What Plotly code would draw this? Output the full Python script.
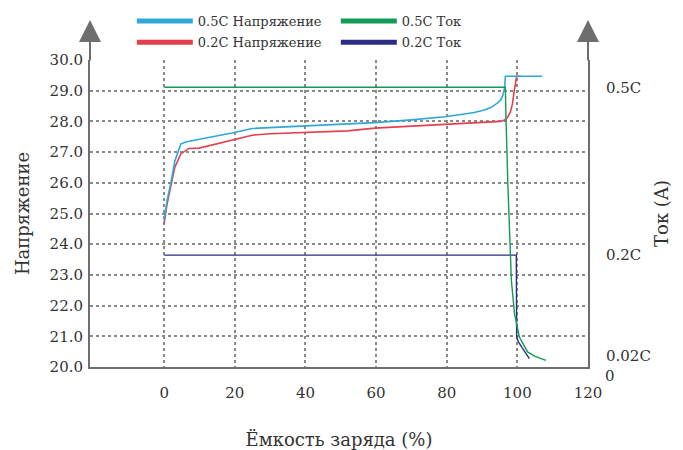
import plotly.graph_objects as go

# ---- data ----
cap_v05 = [0, 0.8, 1.9, 3.0, 4.7, 6.1, 10, 15, 19.2, 24.9, 30, 39.9, 52, 59.6, 70, 79.4, 85, 87.8, 90.6, 92.5, 94.4, 95.3, 95.9, 96.4, 96.6, 100, 107]
volt_05 = [24.75, 25.4, 26.0, 26.7, 27.26, 27.33, 27.42, 27.52, 27.62, 27.77, 27.8, 27.85, 27.92, 27.96, 28.05, 28.15, 28.24, 28.29, 28.37, 28.45, 28.6, 28.7, 28.85, 29.1, 29.47, 29.47, 29.47]

cap_v02 = [0, 0.8, 1.9, 3.0, 4.7, 7.0, 9.9, 14, 19.2, 24.9, 30, 39.9, 52, 59.6, 70, 79.4, 88, 95.3, 96.5, 97.2, 98, 98.6, 99.1, 99.5, 99.8, 101]
volt_02 = [24.68, 25.3, 25.9, 26.5, 26.94, 27.12, 27.13, 27.25, 27.39, 27.55, 27.6, 27.64, 27.69, 27.78, 27.85, 27.91, 27.95, 28.0, 28.05, 28.13, 28.3, 28.56, 28.99, 29.3, 29.47, 29.47]

cap_i05 = [0, 96.6, 96.8, 97.3, 98.3, 99.2, 100.6, 102.9, 105, 108.1]
curr_05 = [0.5, 0.5, 0.44, 0.328, 0.155, 0.095, 0.053, 0.027, 0.019, 0.012]

cap_i02 = [0, 99.7, 99.8, 100.3, 101.3, 102.4, 103.4]
curr_02 = [0.2, 0.2, 0.053, 0.045, 0.035, 0.024, 0.015]

x_ticks = [0, 20, 40, 60, 80, 100, 120]
y_ticks = [20, 21, 22, 23, 24, 25, 26, 27, 28, 29, 30]
i_tickvals = [0.5, 0.2, 0.02]
i_ticktext = ["0.5C", "0.2C", "0.02C"]
i_zero_label = "0"

names = ["0.5C Напряжение", "0.5C Ток", "0.2C Напряжение", "0.2C Ток"]

C_BLUE = "#2fa8d8"
C_RED = "#e2404c"
C_GREEN = "#139a55"
C_NAVY = "#2c2e86"
FONT = "DejaVu Serif"
TXT = "#333333"
GRID = "#8a8a8a"
AX = "#6e6e6e"
TICK_SIZE = 15
TITLE_SIZE = 18

fig = go.Figure()

# main traces
fig.add_trace(go.Scatter(x=cap_v02, y=volt_02, mode="lines", line=dict(color=C_RED, width=1.6), showlegend=False))
fig.add_trace(go.Scatter(x=cap_v05, y=volt_05, mode="lines", line=dict(color=C_BLUE, width=1.6), showlegend=False))
fig.add_trace(go.Scatter(x=cap_i02, y=curr_02, mode="lines", line=dict(color=C_NAVY, width=1.4), yaxis="y2", showlegend=False))
fig.add_trace(go.Scatter(x=cap_i05, y=curr_05, mode="lines", line=dict(color=C_GREEN, width=1.4), yaxis="y2", showlegend=False))

# legend entries (thick bars)
leg = [(names[0], C_BLUE, "legend"), (names[1], C_GREEN, "legend"),
       (names[2], C_RED, "legend2"), (names[3], C_NAVY, "legend2")]
for n, c, l in leg:
    fig.add_trace(go.Scatter(x=[None], y=[None], mode="lines", name=n,
                             line=dict(color=c, width=5), legend=l))

legend_common = dict(orientation="h", xanchor="left", yanchor="middle",
                     entrywidth=133, entrywidthmode="pixels", itemwidth=56,
                     font=dict(family=FONT, size=13, color=TXT),
                     bgcolor="rgba(0,0,0,0)", tracegroupgap=0)

tickfont = dict(family=FONT, size=TICK_SIZE, color=TXT)
titlefont = dict(family=FONT, size=TITLE_SIZE, color=TXT)

fig.update_layout(
    width=675, height=442,
    margin=dict(l=82, r=95, t=52, b=83, autoexpand=False),
    paper_bgcolor="white", plot_bgcolor="white",
    font=dict(family=FONT, size=13, color=TXT),
    legend=dict(x=0.084, y=1.127, **legend_common),
    legend2=dict(x=0.084, y=1.058, **legend_common),
    xaxis=dict(range=[-21, 120], tickvals=x_ticks, showgrid=True, gridcolor=GRID,
               griddash="dot", gridwidth=1.5, zeroline=False, showline=True,
               linecolor=AX, linewidth=2, ticks="", ticklabelstandoff=11,
               tickfont=tickfont,
               title=dict(text="Ёмкость заряда (%)", font=titlefont, standoff=32),
               automargin=False),
    yaxis=dict(range=[20, 30], tickvals=y_ticks, tickformat=".1f", showgrid=True,
               gridcolor=GRID, griddash="dot", gridwidth=1.5, zeroline=False,
               showline=True, linecolor=AX, linewidth=2, ticks="", ticklabelstandoff=2,
               tickfont=tickfont,
               title=dict(text="Напряжение", font=titlefont, standoff=15),
               automargin=False),
    yaxis2=dict(range=[0, 0.5488], overlaying="y", side="right", tickvals=i_tickvals,
                ticktext=i_ticktext, showgrid=False, zeroline=False, showline=True,
                linecolor=AX, linewidth=2, ticks="", ticklabelstandoff=13,
                tickfont=tickfont,
                title=dict(text="Ток (A)", font=titlefont, standoff=6),
                automargin=False),
)

# axis arrows
for xp in [0, 1]:
    fig.add_annotation(xref="paper", yref="paper", x=xp, y=1.13, ax=0, ay=42,
                       showarrow=True, arrowhead=2, arrowsize=2.2, arrowwidth=2,
                       arrowcolor=AX, text="")

fig.add_annotation(xref="paper", yref="paper", x=1, y=-0.028, xanchor="left",
                   yanchor="middle", xshift=15, showarrow=False, text=i_zero_label,
                   font=tickfont)

fig.write_html("out.html")
